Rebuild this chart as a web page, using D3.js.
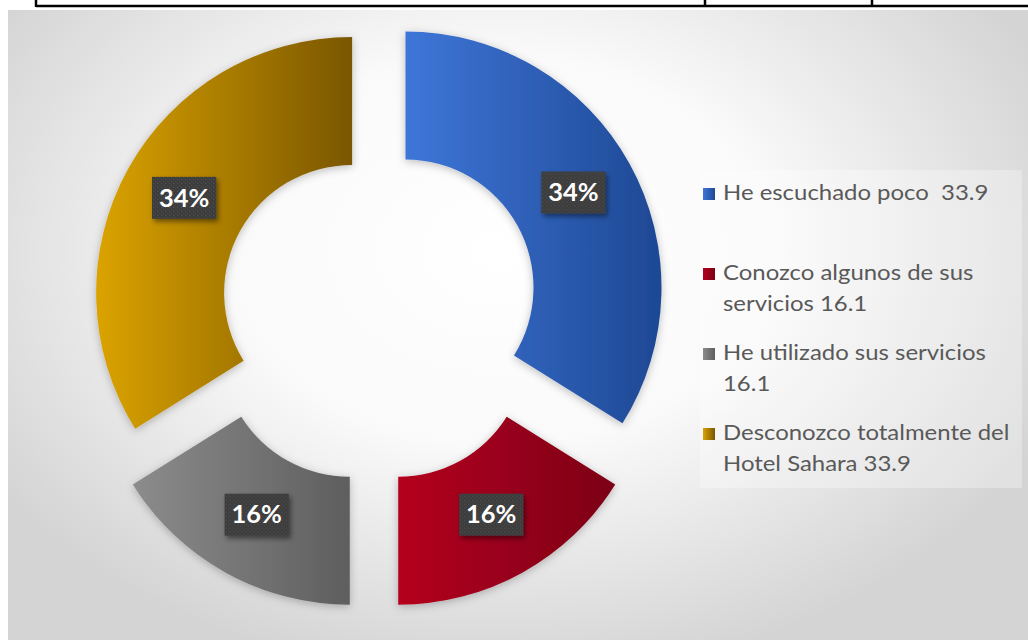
<!DOCTYPE html>
<html>
<head>
<meta charset="utf-8">
<script src="https://cdn.jsdelivr.net/npm/d3@7"></script>
<style>
  html, body { margin: 0; padding: 0; background: #ffffff; }
  svg { display: block; }
</style>
</head>
<body>
<svg id="chart" width="1028" height="642"></svg>
<script>
// Survey answers and their shares (percent)
const categories = [
  "He escuchado poco ",
  "Conozco algunos de sus servicios",
  "He utilizado sus servicios",
  "Desconozco totalmente del Hotel Sahara"
];
const values = [33.9, 16.1, 16.1, 33.9];

// Slice fills: light edge -> dark edge of each gradient
const sliceColors = [
  ["#3e76d8", "#1e4894"],
  ["#b4001f", "#7c0016"],
  ["#8c8c8c", "#5e5e5e"],
  ["#dba300", "#7a5600"]
];
// How far each slice is pulled away from the ring centre
const sliceOffset = [36, 50, 50, 25];

const W = 1028, H = 642;
const cx = 374, cy = 305;
const innerR = 128, outerR = 256;

const svg = d3.select("#chart");
const defs = svg.append("defs");

// Chart-area background: soft light-grey vignette
const bg = defs.append("radialGradient")
  .attr("id", "bgGrad")
  .attr("gradientUnits", "userSpaceOnUse")
  .attr("cx", 500).attr("cy", 250).attr("r", 600)
  .attr("gradientTransform", "translate(500 250) scale(1 0.72) translate(-500 -250)");
bg.append("stop").attr("offset", "0").attr("stop-color", "#ffffff");
bg.append("stop").attr("offset", "0.45").attr("stop-color", "#fafafa");
bg.append("stop").attr("offset", "1").attr("stop-color", "#d4d4d4");

sliceColors.forEach((c, i) => {
  const g = defs.append("linearGradient")
    .attr("id", "slice" + i)
    .attr("x1", 0).attr("y1", 0).attr("x2", 1).attr("y2", 0);
  g.append("stop").attr("offset", "0").attr("stop-color", c[0]);
  g.append("stop").attr("offset", "1").attr("stop-color", c[1]);
});

const shadow = defs.append("filter").attr("id", "softShadow")
  .attr("x", "-20%").attr("y", "-20%").attr("width", "140%").attr("height", "140%");
shadow.append("feDropShadow")
  .attr("dx", 0).attr("dy", 2).attr("stdDeviation", 4)
  .attr("flood-color", "#000").attr("flood-opacity", 0.25);

const boxShadow = defs.append("filter").attr("id", "boxShadow")
  .attr("x", "-30%").attr("y", "-30%").attr("width", "160%").attr("height", "160%");
boxShadow.append("feDropShadow")
  .attr("dx", 2).attr("dy", 3).attr("stdDeviation", 2.5)
  .attr("flood-color", "#000").attr("flood-opacity", 0.45);

// Dotted texture on the data-label boxes
const dots = defs.append("pattern").attr("id", "dots")
  .attr("patternUnits", "userSpaceOnUse").attr("width", 4).attr("height", 4);
dots.append("rect").attr("width", 4).attr("height", 4).attr("fill", "#3c3c3c");
dots.append("rect").attr("x", 1).attr("y", 1).attr("width", 1).attr("height", 1).attr("fill", "#5a5a5a");
dots.append("rect").attr("x", 3).attr("y", 3).attr("width", 1).attr("height", 1).attr("fill", "#505050");

// Table rule above the chart
const rule = svg.append("g").attr("stroke", "#000").attr("stroke-width", 2.5);
rule.append("line").attr("x1", 36).attr("x2", W).attr("y1", 6).attr("y2", 6);
[36, 705, 872].forEach(x => {
  rule.append("line").attr("x1", x).attr("x2", x).attr("y1", 0).attr("y2", 7);
});

// Chart area
svg.append("rect")
  .attr("x", 8).attr("y", 10).attr("width", W - 8).attr("height", 630)
  .attr("fill", "url(#bgGrad)");

// Doughnut
const pie = d3.pie().sort(null).value(d => d)(values);
const arc = d3.arc().innerRadius(innerR).outerRadius(outerR);
const total = d3.sum(values);
const pct = d3.format(".0%");

const offsetOf = (d, i) => {
  const mid = (d.startAngle + d.endAngle) / 2;
  return [Math.sin(mid) * sliceOffset[i], -Math.cos(mid) * sliceOffset[i]];
};

const ring = svg.append("g").attr("transform", `translate(${cx},${cy})`);

ring.selectAll("path.slice")
  .data(pie)
  .join("path")
  .attr("class", "slice")
  .attr("transform", (d, i) => { const o = offsetOf(d, i); return `translate(${o[0]},${o[1]})`; })
  .attr("d", arc)
  .attr("fill", (d, i) => `url(#slice${i})`)
  .attr("filter", "url(#softShadow)");

// Percentage labels in dark boxes
const labels = ring.selectAll("g.lbl")
  .data(pie)
  .join("g")
  .attr("class", "lbl")
  .attr("transform", (d, i) => {
    const o = offsetOf(d, i);
    const c = arc.centroid(d);
    return `translate(${c[0] + o[0]},${c[1] + o[1] - 2})`;
  });

labels.each(function(d) {
  const g = d3.select(this);
  const t = g.append("text")
    .attr("text-anchor", "middle")
    .attr("dy", "0.36em")
    .attr("font-family", "Lato, 'Open Sans', sans-serif")
    .attr("font-weight", 700)
    .attr("font-size", 24)
    .attr("fill", "#ffffff")
    .attr("transform", "scale(1.06,1)")
    .text(pct(d.data / total));
  const bb = t.node().getBBox();
  const bw = bb.width * 1.06 + 14, bh = 42;
  g.insert("rect", "text")
    .attr("x", -bw / 2).attr("y", -bh / 2)
    .attr("width", bw).attr("height", bh)
    .attr("fill", "url(#dots)")
    .attr("filter", "url(#boxShadow)");
});

// Legend
const legend = svg.append("g");
legend.append("rect")
  .attr("x", 700).attr("y", 170).attr("width", 322).attr("height", 318)
  .attr("fill", "#ffffff").attr("opacity", 0.3);

const legendX = 703, textX = 723, firstBase = 200, entryStep = 80, lineStep = 31.5;
const stretch = 1.14, maxW = 258;

categories.forEach((name, i) => {
  const base = firstBase + i * entryStep;
  legend.append("rect")
    .attr("x", legendX).attr("y", base - 12)
    .attr("width", 12).attr("height", 12)
    .attr("fill", `url(#slice${i})`);

  const text = legend.append("text")
    .attr("x", textX).attr("y", base)
    .attr("font-family", "Lato, 'Open Sans', sans-serif")
    .attr("font-size", 21)
    .attr("fill", "#595959")
    .attr("transform", `translate(${textX},0) scale(${stretch},1) translate(${-textX},0)`)
    .style("white-space", "pre");

  // wrap the label word by word inside the legend width
  const words = (name + " " + values[i]).split(/ (?! )/);
  let line = [], lineNo = 0;
  let tspan = text.append("tspan").attr("x", textX).attr("y", base);
  words.forEach(w => {
    line.push(w);
    tspan.text(line.join(" "));
    if (tspan.node().getComputedTextLength() > maxW && line.length > 1) {
      line.pop();
      tspan.text(line.join(" "));
      line = [w];
      lineNo += 1;
      tspan = text.append("tspan").attr("x", textX).attr("y", base + lineNo * lineStep).text(w);
    }
  });
});
</script>
</body>
</html>
